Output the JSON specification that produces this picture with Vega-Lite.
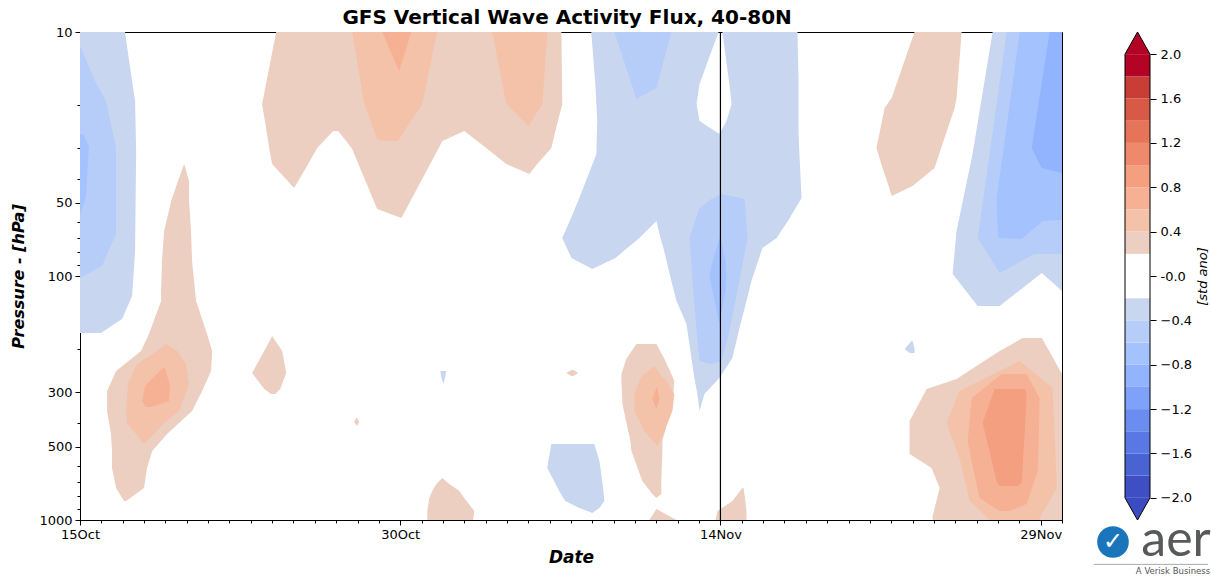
{
  "$schema": "https://vega.github.io/schema/vega-lite/v6.json",
  "background": "white",
  "padding": {"left": 10, "top": 7, "right": 0, "bottom": 0},
  "spacing": 30,
  "title": {"text": "GFS Vertical Wave Activity Flux, 40-80N", "fontSize": 20, "fontWeight": "bold", "color": "black", "anchor": "start", "frame": "bounds", "dx": 332, "dy": 6, "offset": 4},
  "config": {
    "font": "DejaVu Sans",
    "view": {"stroke": null},
    "axis": {"domainColor": "black", "tickColor": "black", "labelColor": "black", "titleColor": "black", "labelFontSize": 13, "grid": false, "labelFont": "DejaVu Sans", "titleFont": "DejaVu Sans", "labelOverlap": false}
  },
  "datasets": {
    "contours": [
      {"id":"A3","v":-0.3,"p":10,"l":0,"r":2.11},
      {"id":"A3","v":-0.3,"p":13.15,"l":0,"r":2.3},
      {"id":"A3","v":-0.3,"p":19.18,"l":0,"r":2.58},
      {"id":"A3","v":-0.3,"p":30.74,"l":0,"r":2.63},
      {"id":"A3","v":-0.3,"p":78.98,"l":0,"r":2.58},
      {"id":"A3","v":-0.3,"p":120.8,"l":0,"r":2.44},
      {"id":"A3","v":-0.3,"p":150.0,"l":0,"r":1.97},
      {"id":"A3","v":-0.3,"p":171.2,"l":0,"r":0.98},
      {"id":"B3","v":0.3,"p":34.75,"l":4.88,"r":4.88},
      {"id":"B3","v":0.3,"p":40.8,"l":4.59,"r":5.11},
      {"id":"B3","v":0.3,"p":49.27,"l":4.27,"r":5.11},
      {"id":"B3","v":0.3,"p":65.4,"l":3.94,"r":5.2},
      {"id":"B3","v":0.3,"p":86.8,"l":3.84,"r":5.25},
      {"id":"B3","v":0.3,"p":115.2,"l":3.8,"r":5.39},
      {"id":"B3","v":0.3,"p":126.6,"l":3.8,"r":5.44},
      {"id":"B3","v":0.3,"p":172.9,"l":3.23,"r":5.95},
      {"id":"B3","v":0.3,"p":203.0,"l":2.86,"r":6.19},
      {"id":"B3","v":0.3,"p":245.1,"l":1.69,"r":6.14},
      {"id":"B3","v":0.3,"p":296.0,"l":1.27,"r":5.72},
      {"id":"B3","v":0.3,"p":357.5,"l":1.27,"r":5.25},
      {"id":"B3","v":0.3,"p":444.1,"l":1.45,"r":4.08},
      {"id":"B3","v":0.3,"p":521.5,"l":1.5,"r":3.38},
      {"id":"B3","v":0.3,"p":612.2,"l":1.5,"r":3.14},
      {"id":"B3","v":0.3,"p":739.3,"l":1.69,"r":3.0},
      {"id":"B3","v":0.3,"p":835.9,"l":2.06,"r":2.16},
      {"id":"C3","v":0.3,"p":176.2,"l":9.0,"r":9.0},
      {"id":"C3","v":0.3,"p":203.0,"l":8.63,"r":9.47},
      {"id":"C3","v":0.3,"p":249.8,"l":8.06,"r":9.66},
      {"id":"C3","v":0.3,"p":290.5,"l":8.63,"r":9.38},
      {"id":"C3","v":0.3,"p":304.5,"l":8.95,"r":9.14},
      {"id":"D3","v":0.3,"p":10,"l":9.19,"r":22.55},
      {"id":"D3","v":0.3,"p":19.73,"l":8.53,"r":22.59},
      {"id":"D3","v":0.3,"p":25.45,"l":8.74,"r":22.27},
      {"id":"D3L1","v":0.3,"p":25.45,"l":8.74,"r":11.86},
      {"id":"D3L1","v":0.3,"p":29.88,"l":8.86,"r":11.11},
      {"id":"D3L1","v":0.3,"p":34.75,"l":9.0,"r":10.69},
      {"id":"D3L1","v":0.3,"p":43.59,"l":10.03,"r":10.03},
      {"id":"D3L2","v":0.3,"p":25.45,"l":12.09,"r":18.0},
      {"id":"D3L2","v":0.3,"p":27.97,"l":12.47,"r":16.97},
      {"id":"D3L2","v":0.3,"p":30.16,"l":12.75,"r":16.78},
      {"id":"D3L2","v":0.3,"p":53.14,"l":13.92,"r":15.28},
      {"id":"D3L2","v":0.3,"p":57.86,"l":15.05,"r":15.05},
      {"id":"D3L3","v":0.3,"p":25.45,"l":18.0,"r":22.27},
      {"id":"D3L3","v":0.3,"p":29.88,"l":19.03,"r":22.08},
      {"id":"D3L3","v":0.3,"p":34.75,"l":19.97,"r":21.42},
      {"id":"D3L3","v":0.3,"p":38.19,"l":21.05,"r":21.05},
      {"id":"E3L","v":-0.3,"p":10,"l":23.95,"r":29.91},
      {"id":"E3L","v":-0.3,"p":16.33,"l":24.14,"r":29.02},
      {"id":"E3L","v":-0.3,"p":19.73,"l":24.19,"r":28.88},
      {"id":"E3L","v":-0.3,"p":23.16,"l":24.23,"r":29.02},
      {"id":"E3L","v":-0.3,"p":26.18,"l":24.21,"r":29.95},
      {"id":"E3R","v":-0.3,"p":10,"l":30.09,"r":33.61},
      {"id":"E3R","v":-0.3,"p":16.33,"l":30.42,"r":33.66},
      {"id":"E3R","v":-0.3,"p":19.73,"l":30.52,"r":33.66},
      {"id":"E3R","v":-0.3,"p":23.16,"l":30.28,"r":33.66},
      {"id":"E3R","v":-0.3,"p":26.18,"l":29.95,"r":33.66},
      {"id":"E3M","v":-0.3,"p":26.18,"l":24.21,"r":33.66},
      {"id":"E3M","v":-0.3,"p":31.62,"l":24.19,"r":33.7},
      {"id":"E3M","v":-0.3,"p":47.9,"l":23.39,"r":33.8},
      {"id":"E3M","v":-0.3,"p":59.51,"l":22.94,"r":33.16},
      {"id":"E3LL","v":-0.3,"p":59.51,"l":22.94,"r":27.0},
      {"id":"E3LL","v":-0.3,"p":69.86,"l":22.59,"r":26.2},
      {"id":"E3LL","v":-0.3,"p":84.37,"l":23.02,"r":25.08},
      {"id":"E3LL","v":-0.3,"p":93.61,"l":24.0,"r":24.0},
      {"id":"E3B","v":-0.3,"p":59.51,"l":27.0,"r":33.16},
      {"id":"E3B","v":-0.3,"p":69.86,"l":27.19,"r":32.63},
      {"id":"E3B","v":-0.3,"p":76.78,"l":27.33,"r":31.97},
      {"id":"E3B","v":-0.3,"p":104.8,"l":27.7,"r":31.45},
      {"id":"E3B","v":-0.3,"p":126.6,"l":27.94,"r":31.22},
      {"id":"E3B","v":-0.3,"p":157.3,"l":28.41,"r":30.94},
      {"id":"E3B","v":-0.3,"p":216.8,"l":28.64,"r":30.56},
      {"id":"E3B","v":-0.3,"p":261.8,"l":28.78,"r":29.95},
      {"id":"E3B","v":-0.3,"p":304.5,"l":28.92,"r":29.25},
      {"id":"E3B","v":-0.3,"p":357.5,"l":29.02,"r":29.02},
      {"id":"F3","v":0.3,"p":190.0,"l":26.06,"r":27.0},
      {"id":"F3","v":0.3,"p":218.9,"l":25.59,"r":27.38},
      {"id":"F3","v":0.3,"p":252.1,"l":25.36,"r":27.7},
      {"id":"F3","v":0.3,"p":269.4,"l":25.36,"r":27.84},
      {"id":"F3","v":0.3,"p":334.7,"l":25.41,"r":27.75},
      {"id":"F3","v":0.3,"p":474.5,"l":25.78,"r":27.28},
      {"id":"F3","v":0.3,"p":521.5,"l":25.83,"r":27.28},
      {"id":"F3","v":0.3,"p":692.1,"l":26.34,"r":27.23},
      {"id":"F3","v":0.3,"p":782.3,"l":26.81,"r":27.23},
      {"id":"F3","v":0.3,"p":812.5,"l":27.0,"r":27.0},
      {"id":"F3W","v":0.3,"p":901.4,"l":27.0,"r":27.0},
      {"id":"F3W","v":0.3,"p":1000,"l":26.67,"r":27.94},
      {"id":"G3","v":-0.3,"p":488.1,"l":22.08,"r":24.09},
      {"id":"G3","v":-0.3,"p":573.1,"l":21.94,"r":24.33},
      {"id":"G3","v":-0.3,"p":612.2,"l":21.89,"r":24.38},
      {"id":"G3","v":-0.3,"p":760.5,"l":22.45,"r":24.52},
      {"id":"G3","v":-0.3,"p":835.9,"l":22.73,"r":24.56},
      {"id":"G3","v":-0.3,"p":892.9,"l":23.39,"r":24.33},
      {"id":"G3","v":-0.3,"p":936.0,"l":24.0,"r":24.0},
      {"id":"H3","v":0.3,"p":672.8,"l":16.97,"r":16.97},
      {"id":"H3","v":0.3,"p":711.9,"l":16.69,"r":17.3},
      {"id":"H3","v":0.3,"p":760.5,"l":16.5,"r":17.77},
      {"id":"H3","v":0.3,"p":812.5,"l":16.36,"r":18.0},
      {"id":"H3","v":0.3,"p":918.5,"l":16.27,"r":18.47},
      {"id":"H3","v":0.3,"p":1000,"l":16.27,"r":18.42},
      {"id":"R3","v":0.3,"p":739.3,"l":31.03,"r":31.08},
      {"id":"R3","v":0.3,"p":835.9,"l":30.56,"r":31.17},
      {"id":"R3","v":0.3,"p":918.5,"l":29.86,"r":31.22},
      {"id":"R3","v":0.3,"p":1000,"l":29.77,"r":31.22},
      {"id":"I3","v":0.3,"p":10,"l":39.09,"r":41.3},
      {"id":"I3","v":0.3,"p":18.64,"l":38.02,"r":41.06},
      {"id":"I3","v":0.3,"p":20.49,"l":37.69,"r":40.97},
      {"id":"I3","v":0.3,"p":29.88,"l":37.31,"r":40.34},
      {"id":"I3","v":0.3,"p":36.1,"l":37.59,"r":40.03},
      {"id":"I3","v":0.3,"p":42.77,"l":37.88,"r":39.0},
      {"id":"I3","v":0.3,"p":47.0,"l":38.02,"r":38.02},
      {"id":"J3","v":-0.3,"p":10,"l":42.75,"r":46},
      {"id":"J3","v":-0.3,"p":31.62,"l":41.81,"r":46},
      {"id":"J3","v":-0.3,"p":65.4,"l":41.06,"r":46},
      {"id":"J3","v":-0.3,"p":97.2,"l":40.88,"r":46},
      {"id":"J3a","v":-0.3,"p":97.2,"l":40.88,"r":45.05},
      {"id":"J3a","v":-0.3,"p":98.12,"l":40.88,"r":44.99},
      {"id":"J3a","v":-0.3,"p":132.7,"l":42.05,"r":43.08},
      {"id":"J3b","v":-0.3,"p":97.2,"l":45.05,"r":46},
      {"id":"J3b","v":-0.3,"p":115.2,"l":46,"r":46},
      {"id":"K3","v":0.3,"p":179.5,"l":44.16,"r":45.05},
      {"id":"K3","v":0.3,"p":203.0,"l":43.08,"r":45.4},
      {"id":"K3","v":0.3,"p":252.1,"l":41.42,"r":46},
      {"id":"K3","v":0.3,"p":264.3,"l":41.06,"r":46},
      {"id":"K3","v":0.3,"p":290.5,"l":39.66,"r":46},
      {"id":"K3","v":0.3,"p":392.8,"l":38.86,"r":46},
      {"id":"K3","v":0.3,"p":536.5,"l":38.86,"r":46},
      {"id":"K3","v":0.3,"p":612.2,"l":39.89,"r":46},
      {"id":"K3","v":0.3,"p":739.3,"l":40.27,"r":46},
      {"id":"K3","v":0.3,"p":962.9,"l":39.94,"r":46},
      {"id":"K3","v":0.3,"p":1000,"l":39.94,"r":46},
      {"id":"S1","v":-0.3,"p":184.7,"l":38.95,"r":39.0},
      {"id":"S1","v":-0.3,"p":199.2,"l":38.63,"r":39.09},
      {"id":"S1","v":-0.3,"p":206.8,"l":38.86,"r":39.09},
      {"id":"S2","v":-0.3,"p":245.1,"l":16.88,"r":17.16},
      {"id":"S2","v":-0.3,"p":259.4,"l":16.92,"r":17.11},
      {"id":"S2","v":-0.3,"p":277.1,"l":17.02,"r":17.02},
      {"id":"S3","v":0.3,"p":381.9,"l":12.94,"r":12.98},
      {"id":"S3","v":0.3,"p":396.6,"l":12.84,"r":13.08},
      {"id":"S3","v":0.3,"p":411.8,"l":12.98,"r":12.98},
      {"id":"S4","v":0.3,"p":242.8,"l":23.02,"r":23.11},
      {"id":"S4","v":0.3,"p":249.8,"l":22.78,"r":23.34},
      {"id":"S4","v":0.3,"p":256.9,"l":23.02,"r":23.11},

      {"id":"A5","v":-0.5,"p":11.63,"l":0,"r":0.05},
      {"id":"A5","v":-0.5,"p":15.88,"l":0,"r":0.7},
      {"id":"A5","v":-0.5,"p":19.18,"l":0,"r":1.22},
      {"id":"A5","v":-0.5,"p":29.88,"l":0,"r":1.69},
      {"id":"A5","v":-0.5,"p":67.28,"l":0,"r":1.69},
      {"id":"A5","v":-0.5,"p":91.01,"l":0,"r":1.03},
      {"id":"A5","v":-0.5,"p":101.9,"l":0,"r":0},
      {"id":"B5","v":0.5,"p":190.0,"l":4.03,"r":4.03},
      {"id":"B5","v":0.5,"p":203.0,"l":3.61,"r":4.55},
      {"id":"B5","v":0.5,"p":229.4,"l":2.67,"r":4.97},
      {"id":"B5","v":0.5,"p":277.1,"l":2.25,"r":5.11},
      {"id":"B5","v":0.5,"p":357.5,"l":2.16,"r":4.64},
      {"id":"B5","v":0.5,"p":400.3,"l":2.2,"r":3.94},
      {"id":"B5","v":0.5,"p":488.1,"l":3.0,"r":3.0},
      {"id":"D5a","v":0.5,"p":10,"l":12.75,"r":16.73},
      {"id":"D5a","v":0.5,"p":19.73,"l":13.31,"r":16.03},
      {"id":"D5a","v":0.5,"p":27.45,"l":13.92,"r":14.95},
      {"id":"D5a","v":0.5,"p":27.97,"l":14.25,"r":14.86},
      {"id":"D5b","v":0.5,"p":10,"l":19.31,"r":21.89},
      {"id":"D5b","v":0.5,"p":19.73,"l":19.97,"r":21.66},
      {"id":"D5b","v":0.5,"p":24.28,"l":21.0,"r":21.0},
      {"id":"E5a","v":-0.5,"p":10,"l":25.03,"r":27.7},
      {"id":"E5a","v":-0.5,"p":16.96,"l":25.9,"r":27.0},
      {"id":"E5a","v":-0.5,"p":18.82,"l":26.06,"r":26.06},
      {"id":"E5b","v":-0.5,"p":46.12,"l":30.05,"r":30.05},
      {"id":"E5b","v":-0.5,"p":48.35,"l":29.58,"r":31.13},
      {"id":"E5b","v":-0.5,"p":52.64,"l":29.02,"r":31.17},
      {"id":"E5b","v":-0.5,"p":69.86,"l":28.55,"r":31.27},
      {"id":"E5b","v":-0.5,"p":104.8,"l":28.69,"r":30.89},
      {"id":"E5b","v":-0.5,"p":168.0,"l":28.88,"r":30.42},
      {"id":"E5b","v":-0.5,"p":223.0,"l":29.02,"r":30.05},
      {"id":"E5b","v":-0.5,"p":229.4,"l":29.53,"r":29.53},
      {"id":"F5","v":0.5,"p":233.8,"l":26.91,"r":26.91},
      {"id":"F5","v":0.5,"p":256.9,"l":26.34,"r":27.23},
      {"id":"F5","v":0.5,"p":269.4,"l":26.2,"r":27.47},
      {"id":"F5","v":0.5,"p":304.5,"l":25.97,"r":27.84},
      {"id":"F5","v":0.5,"p":357.5,"l":25.97,"r":27.75},
      {"id":"F5","v":0.5,"p":431.7,"l":26.44,"r":27.38},
      {"id":"F5","v":0.5,"p":497.4,"l":27.05,"r":27.05},
      {"id":"J5","v":-0.5,"p":10,"l":43.41,"r":46},
      {"id":"J5","v":-0.5,"p":69.86,"l":42.05,"r":46},
      {"id":"J5","v":-0.5,"p":78.98,"l":42.42,"r":46},
      {"id":"J5","v":-0.5,"p":81.25,"l":42.52,"r":46},
      {"id":"J5a","v":-0.5,"p":81.25,"l":42.52,"r":44.7},
      {"id":"J5a","v":-0.5,"p":97.2,"l":43.08,"r":43.08},
      {"id":"K5","v":0.5,"p":223.0,"l":44.02,"r":44.02},
      {"id":"K5","v":0.5,"p":287.8,"l":41.48,"r":45.56},
      {"id":"K5","v":0.5,"p":296.0,"l":41.2,"r":45.57},
      {"id":"K5","v":0.5,"p":400.3,"l":40.59,"r":45.63},
      {"id":"K5","v":0.5,"p":557.1,"l":41.2,"r":45.7},
      {"id":"K5","v":0.5,"p":739.3,"l":41.53,"r":45.75},
      {"id":"K5","v":0.5,"p":835.9,"l":41.67,"r":45.42},
      {"id":"K5","v":0.5,"p":944.9,"l":42.33,"r":45.05},
      {"id":"K5","v":0.5,"p":1000,"l":42.61,"r":44.95},

      {"id":"A7","v":-0.7,"p":26.18,"l":0,"r":0.14},
      {"id":"A7","v":-0.7,"p":29.32,"l":0,"r":0.42},
      {"id":"A7","v":-0.7,"p":47.0,"l":0,"r":0.28},
      {"id":"A7","v":-0.7,"p":56.77,"l":0,"r":0},
      {"id":"B7","v":0.7,"p":238.2,"l":3.89,"r":3.98},
      {"id":"B7","v":0.7,"p":282.4,"l":3.05,"r":4.22},
      {"id":"B7","v":0.7,"p":325.3,"l":2.91,"r":4.17},
      {"id":"B7","v":0.7,"p":344.3,"l":3.09,"r":3.33},
      {"id":"D7","v":0.7,"p":10,"l":14.16,"r":15.52},
      {"id":"D7","v":0.7,"p":14.45,"l":14.95,"r":14.95},
      {"id":"E7","v":-0.7,"p":68.56,"l":30.0,"r":30.0},
      {"id":"E7","v":-0.7,"p":86.8,"l":29.63,"r":30.23},
      {"id":"E7","v":-0.7,"p":100,"l":29.48,"r":30.28},
      {"id":"E7","v":-0.7,"p":115.2,"l":29.63,"r":30.23},
      {"id":"E7","v":-0.7,"p":157.3,"l":29.95,"r":29.95},
      {"id":"F7","v":0.7,"p":287.8,"l":27.0,"r":27.05},
      {"id":"F7","v":0.7,"p":319.2,"l":26.81,"r":27.14},
      {"id":"F7","v":0.7,"p":350.8,"l":27.0,"r":27.0},
      {"id":"J7","v":-0.7,"p":10,"l":44.02,"r":46},
      {"id":"J7","v":-0.7,"p":47.9,"l":42.94,"r":46},
      {"id":"J7","v":-0.7,"p":58.95,"l":42.96,"r":46},
      {"id":"J7","v":-0.7,"p":59.51,"l":42.97,"r":45.09},
      {"id":"J7","v":-0.7,"p":69.86,"l":43.03,"r":44.16},
      {"id":"J7","v":-0.7,"p":70.52,"l":44.11,"r":44.11},
      {"id":"K7","v":0.7,"p":252.1,"l":43.17,"r":44.34},
      {"id":"K7","v":0.7,"p":316.2,"l":41.77,"r":44.95},
      {"id":"K7","v":0.7,"p":474.5,"l":41.58,"r":44.91},
      {"id":"K7","v":0.7,"p":629.8,"l":41.86,"r":44.86},
      {"id":"K7","v":0.7,"p":812.5,"l":42.14,"r":44.44},
      {"id":"K7","v":0.7,"p":859.9,"l":42.56,"r":44.34},
      {"id":"K7","v":0.7,"p":918.5,"l":43.08,"r":43.55},

      {"id":"J9","v":-0.9,"p":10,"l":45.42,"r":46},
      {"id":"J9","v":-0.9,"p":29.88,"l":44.58,"r":46},
      {"id":"J9","v":-0.9,"p":36.1,"l":45.05,"r":46},
      {"id":"J9","v":-0.9,"p":37.83,"l":46,"r":46},
      {"id":"K9","v":0.9,"p":290.5,"l":42.84,"r":44.25},
      {"id":"K9","v":0.9,"p":301.6,"l":42.78,"r":44.34},
      {"id":"K9","v":0.9,"p":400.3,"l":42.28,"r":44.28},
      {"id":"K9","v":0.9,"p":705.2,"l":42.96,"r":44.11},
      {"id":"K9","v":0.9,"p":725.5,"l":43.08,"r":43.92}
    ]
  },
  "hconcat": [
    {
      "width": 982,
      "height": 488,
      "view": {"stroke": "black", "strokeWidth": 1},
      "resolve": {"axis": {"x": "independent"}},
      "encoding": {
        "y": {"field": "p", "type": "quantitative",
          "scale": {"type": "log", "domain": [10, 1000], "reverse": true, "nice": false},
          "axis": {"values": [10,20,30,40,50,60,70,80,90,100,200,300,400,500,600,700,800,900,1000],
            "labelExpr": "indexof([10,50,100,300,500,1000], datum.value) >= 0 ? '' + datum.value : ''",
            "tickSize": {"condition": {"test": "indexof([10,50,100,300,500,1000], datum.value) >= 0", "value": 5}, "value": 3},
            "labelPadding": 3,
            "title": "Pressure - [hPa]", "titleFontSize": 16, "titleFontWeight": "bold", "titleFontStyle": "italic", "titlePadding": 12}},
        "color": {"field": "v", "type": "quantitative", "legend": null,
          "scale": {"type": "threshold", "domain": [-1.8,-1.6,-1.4,-1.2,-1.0,-0.8,-0.6,-0.4,-0.2,0.2,0.4,0.6,0.8,1.0,1.2,1.4,1.6,1.8],
            "range": ["#3d4fc3","#4a63d3","#5a78e4","#6b8df0","#7ea2f9","#92b4fe","#a4c2fe","#b6cdfa","#c8d6f0","#ffffff","#eccfc1","#f4c2a9","#f6b194","#f39f80","#ee8a6b","#e57458","#d85a46","#c83d36","#b40426"]}}
      },
      "layer": [
        {
          "data": {"name": "contours"},
          "transform": [{"filter": "abs(datum.v) < 0.4"}],
          "mark": {"type": "area", "orient": "horizontal"},
          "encoding": {
            "x": {"field": "l", "type": "quantitative",
              "scale": {"domain": [0, 46], "nice": false, "zero": false},
              "axis": {"orient": "bottom", "values": [0,1,2,3,4,5,6,7,8,9,10,11,12,13,14,15,16,17,18,19,20,21,22,23,24,25,26,27,28,29,30,31,32,33,34,35,36,37,38,39,40,41,42,43,44,45,46],
                "labels": false, "tickSize": 3, "title": null}},
            "x2": {"field": "r"},
            "detail": {"field": "id"}
          }
        },
        {
          "data": {"name": "contours"},
          "transform": [{"filter": "abs(datum.v) > 0.4 && abs(datum.v) < 0.6"}],
          "mark": {"type": "area", "orient": "horizontal"},
          "encoding": {
            "x": {"field": "l", "type": "quantitative", "axis": null},
            "x2": {"field": "r"},
            "detail": {"field": "id"}
          }
        },
        {
          "data": {"name": "contours"},
          "transform": [{"filter": "abs(datum.v) > 0.6 && abs(datum.v) < 0.8"}],
          "mark": {"type": "area", "orient": "horizontal"},
          "encoding": {
            "x": {"field": "l", "type": "quantitative", "axis": null},
            "x2": {"field": "r"},
            "detail": {"field": "id"}
          }
        },
        {
          "data": {"name": "contours"},
          "transform": [{"filter": "abs(datum.v) > 0.8"}],
          "mark": {"type": "area", "orient": "horizontal"},
          "encoding": {
            "x": {"field": "l", "type": "quantitative", "axis": null},
            "x2": {"field": "r"},
            "detail": {"field": "id"}
          }
        },
        {
          "data": {"values": [{"d": 30}]},
          "mark": {"type": "rule", "color": "black", "strokeWidth": 1.2},
          "encoding": {
            "x": {"field": "d", "type": "quantitative",
              "axis": {"orient": "bottom", "values": [0, 15, 30, 45],
                "labelExpr": "datum.value == 0 ? '15Oct' : datum.value == 15 ? '30Oct' : datum.value == 30 ? '14Nov' : '29Nov'",
                "tickSize": 5, "labelFlush": false, "labelPadding": 3,
                "title": "Date", "titleFontSize": 17, "titleFontWeight": "bold", "titleFontStyle": "italic", "titlePadding": 8}},
            "y": null,
            "color": null
          }
        }
      ]
    },
    {
      "width": 25,
      "height": 488,
      "layer": [
        {
          "data": {"values": [
            {"lo":-2.0,"hi":-1.8,"v":-1.9},{"lo":-1.8,"hi":-1.6,"v":-1.7},{"lo":-1.6,"hi":-1.4,"v":-1.5},{"lo":-1.4,"hi":-1.2,"v":-1.3},
            {"lo":-1.2,"hi":-1.0,"v":-1.1},{"lo":-1.0,"hi":-0.8,"v":-0.9},{"lo":-0.8,"hi":-0.6,"v":-0.7},{"lo":-0.6,"hi":-0.4,"v":-0.5},
            {"lo":-0.4,"hi":-0.2,"v":-0.3},{"lo":-0.2,"hi":0.0,"v":-0.1},{"lo":0.0,"hi":0.2,"v":0.1},{"lo":0.2,"hi":0.4,"v":0.3},
            {"lo":0.4,"hi":0.6,"v":0.5},{"lo":0.6,"hi":0.8,"v":0.7},{"lo":0.8,"hi":1.0,"v":0.9},{"lo":1.0,"hi":1.2,"v":1.1},
            {"lo":1.2,"hi":1.4,"v":1.3},{"lo":1.4,"hi":1.6,"v":1.5},{"lo":1.6,"hi":1.8,"v":1.7},{"lo":1.8,"hi":2.0,"v":1.9}
          ]},
          "mark": {"type": "rect"},
          "encoding": {
            "x": {"datum": 0, "type": "quantitative", "scale": {"domain": [0, 1], "nice": false, "zero": false}, "axis": null},
            "x2": {"datum": 1},
            "y": {"field": "lo", "type": "quantitative",
              "scale": {"domain": [-2.2, 2.2], "nice": false, "zero": false},
              "axis": {"orient": "right", "values": [-2.0,-1.8,-1.6,-1.4,-1.2,-1.0,-0.8,-0.6,-0.4,-0.2,0.0,0.2,0.4,0.6,0.8,1.0,1.2,1.4,1.6,1.8,2.0],
                "labelExpr": "abs(round(datum.value*10)) % 4 == 0 ? (round(datum.value*10) == 0 ? '-0.0' : format(datum.value, '.1f')) : ''",
                "tickSize": 6, "domain": false, "labelPadding": 4,
                "title": "[std ano]", "titleFontSize": 13, "titleFontWeight": "normal", "titleFontStyle": "italic", "titleAngle": 270, "titlePadding": 18}},
            "y2": {"field": "hi"},
            "color": {"field": "v", "type": "quantitative", "legend": null,
              "scale": {"type": "threshold", "domain": [-1.8,-1.6,-1.4,-1.2,-1.0,-0.8,-0.6,-0.4,-0.2,0.2,0.4,0.6,0.8,1.0,1.2,1.4,1.6,1.8],
                "range": ["#3d4fc3","#4a63d3","#5a78e4","#6b8df0","#7ea2f9","#92b4fe","#a4c2fe","#b6cdfa","#c8d6f0","#ffffff","#eccfc1","#f4c2a9","#f6b194","#f39f80","#ee8a6b","#e57458","#d85a46","#c83d36","#b40426"]}}
          }
        },
        {
          "data": {"values": [{"x":0,"y":2.0,"b":2.0},{"x":0.5,"y":2.2,"b":2.0},{"x":1,"y":2.0,"b":2.0}]},
          "mark": {"type": "area", "color": "#b40426"},
          "encoding": {"x": {"field": "x", "type": "quantitative"}, "y": {"field": "y", "type": "quantitative"}, "y2": {"field": "b"}}
        },
        {
          "data": {"values": [{"x":0,"y":-2.0,"b":-2.0},{"x":0.5,"y":-2.2,"b":-2.0},{"x":1,"y":-2.0,"b":-2.0}]},
          "mark": {"type": "area", "color": "#3b4cc0"},
          "encoding": {"x": {"field": "x", "type": "quantitative"}, "y": {"field": "y", "type": "quantitative"}, "y2": {"field": "b"}}
        },
        {
          "data": {"values": [{"i":0,"x":0,"y":-2.0},{"i":1,"x":0,"y":2.0},{"i":2,"x":0.5,"y":2.2},{"i":3,"x":1,"y":2.0},{"i":4,"x":1,"y":-2.0},{"i":5,"x":0.5,"y":-2.2},{"i":6,"x":0,"y":-2.0}]},
          "mark": {"type": "line", "color": "black", "strokeWidth": 1},
          "encoding": {"x": {"field": "x", "type": "quantitative"}, "y": {"field": "y", "type": "quantitative"}, "order": {"field": "i", "type": "quantitative"}}
        },
        {
          "data": {"values": [{}]},
          "mark": {"type": "circle", "size": 1000, "color": "#1b75bb", "opacity": 1},
          "encoding": {"x": {"datum": -0.48}, "y": {"datum": -2.398}}
        },
        {
          "data": {"values": [{}]},
          "mark": {"type": "text", "text": "✓", "fontSize": 24, "fontWeight": "bold", "color": "white", "align": "center", "baseline": "middle"},
          "encoding": {"x": {"datum": -0.48}, "y": {"datum": -2.398}}
        },
        {
          "data": {"values": [{}]},
          "mark": {"type": "text", "text": "aer", "font": "Lato", "fontSize": 50, "color": "#58595b", "align": "center", "baseline": "alphabetic"},
          "encoding": {"x": {"datum": 2.04}, "y": {"datum": -2.525}}
        },
        {
          "data": {"values": [{}]},
          "mark": {"type": "rule", "color": "#aaaaaa", "strokeWidth": 1},
          "encoding": {"x": {"datum": -1.24}, "x2": {"datum": 3.32}, "y": {"datum": -2.6}}
        },
        {
          "data": {"values": [{}]},
          "mark": {"type": "text", "text": "A Verisk Business", "fontSize": 8.5, "color": "#555555", "align": "center", "baseline": "middle"},
          "encoding": {"x": {"datum": 1.92}, "y": {"datum": -2.66}}
        }
      ]
    }
  ]
}
